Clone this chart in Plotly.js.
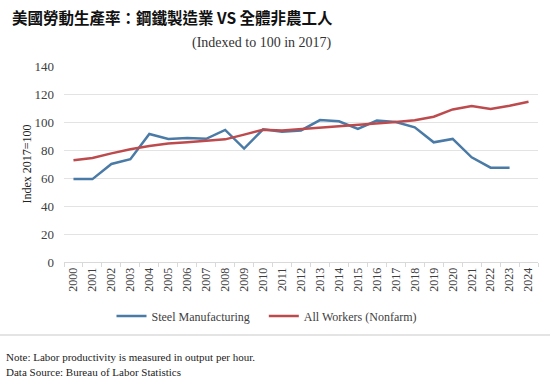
<!DOCTYPE html>
<html>
<head>
<meta charset="utf-8">
<script src="https://cdn.plot.ly/plotly-3.0.1.min.js"></script>
<style>html,body{margin:0;padding:0;background:#fff;}#chart{width:550px;height:382px;}</style>
</head>
<body>
<div id="chart"></div>
<script>
const years = ["2000","2001","2002","2003","2004","2005","2006","2007","2008","2009","2010","2011","2012","2013","2014","2015","2016","2017","2018","2019","2020","2021","2022","2023","2024"];
const steel = [59.3,59.2,70,73.4,91.4,87.8,88.6,88,94.3,81,94.8,93,94,101.4,100.5,95,101,100,96.2,85.5,87.9,74.8,67.4,67.4,null];
const nonfarm = [72.6,74.3,77.6,80.5,82.8,84.6,85.5,86.6,87.6,91,94.5,94,95,95.8,96.5,97.5,98.5,100,101.2,103.8,109,111.4,109.3,111.6,114.5];
const yTicks = [0,20,40,60,80,100,120,140];
const seriesNames = ["Steel Manufacturing", "All Workers (Nonfarm)"];

const serif = "Liberation Serif";
const L = 64, R = 12, T = 66, B = 120, W = 550, H = 382;
const pw = W - L - R, ph = H - T - B;
const px = x => (x - L) / pw;
const py = y => (H - B - y) / ph;

const traces = [
  {x: years, y: steel, type: "scatter", mode: "lines", name: seriesNames[0] + "\u00a0\u00a0\u00a0",
   line: {color: "#4a7aa6", width: 2.5}},
  {x: years, y: nonfarm, type: "scatter", mode: "lines", name: seriesNames[1],
   line: {color: "#bd4b4e", width: 2.5}}
];

const layout = {
  width: W, height: H,
  margin: {l: L, r: R, t: T, b: B},
  paper_bgcolor: "#fff", plot_bgcolor: "#fff",
  showlegend: true,
  title: {text: "<b>美國勞動生產率：鋼鐵製造業 VS 全體非農工人</b>",
    font: {family: "Noto Sans CJK TC", size: 15.5, color: "#111"},
    xref: "container", x: 12 / W, xanchor: "left",
    yref: "container", y: 1 - 19 / H, yanchor: "middle"},
  xaxis: {type: "category", range: [-0.5, years.length - 0.5], tickangle: -90, tickson: "boundaries",
    ticks: "outside", ticklen: 4, tickcolor: "#d9d9d9",
    showline: true, linecolor: "#d9d9d9", linewidth: 1,
    showgrid: false, fixedrange: true,
    tickfont: {family: serif, size: 12, color: "#404040"}},
  yaxis: {range: [0, 140], tickvals: yTicks, ticktext: yTicks.map(String),
    showgrid: true, gridcolor: "#e3e3e3", gridwidth: 1,
    zeroline: false, showline: false, ticks: "", ticklabelstandoff: 9,
    tickfont: {family: serif, size: 13, color: "#404040"},
    title: {text: "Index 2017=100", font: {family: serif, size: 12, color: "#222"}, standoff: 0}},
  legend: {orientation: "h", xref: "paper", x: px(267), xanchor: "center",
    yref: "paper", y: py(316), yanchor: "middle",
    font: {family: serif, size: 12, color: "#404040"},
    itemwidth: 30},
  shapes: [
    {type: "line", xref: "paper", yref: "paper", x0: px(0), x1: px(W), y0: py(335), y1: py(335),
     line: {color: "#e4e4e4", width: 2}}
  ],
  annotations: [
    {text: "(Indexed to 100 in 2017)", xref: "paper", yref: "paper", x: px(334), y: py(43),
     xanchor: "right", yanchor: "middle", showarrow: false,
     font: {family: serif, size: 14, color: "#333"}},
    {text: "Note: Labor productivity is measured in output per hour.", xref: "paper", yref: "paper",
     x: px(4), y: py(357), xanchor: "left", yanchor: "middle", showarrow: false,
     font: {family: serif, size: 11, color: "#222"}},
    {text: "Data Source: Bureau of Labor Statistics", xref: "paper", yref: "paper",
     x: px(4), y: py(372), xanchor: "left", yanchor: "middle", showarrow: false,
     font: {family: serif, size: 11, color: "#222"}}
  ]
};

Plotly.newPlot("chart", traces, layout, {displayModeBar: false, staticPlot: true});
</script>
</body>
</html>
